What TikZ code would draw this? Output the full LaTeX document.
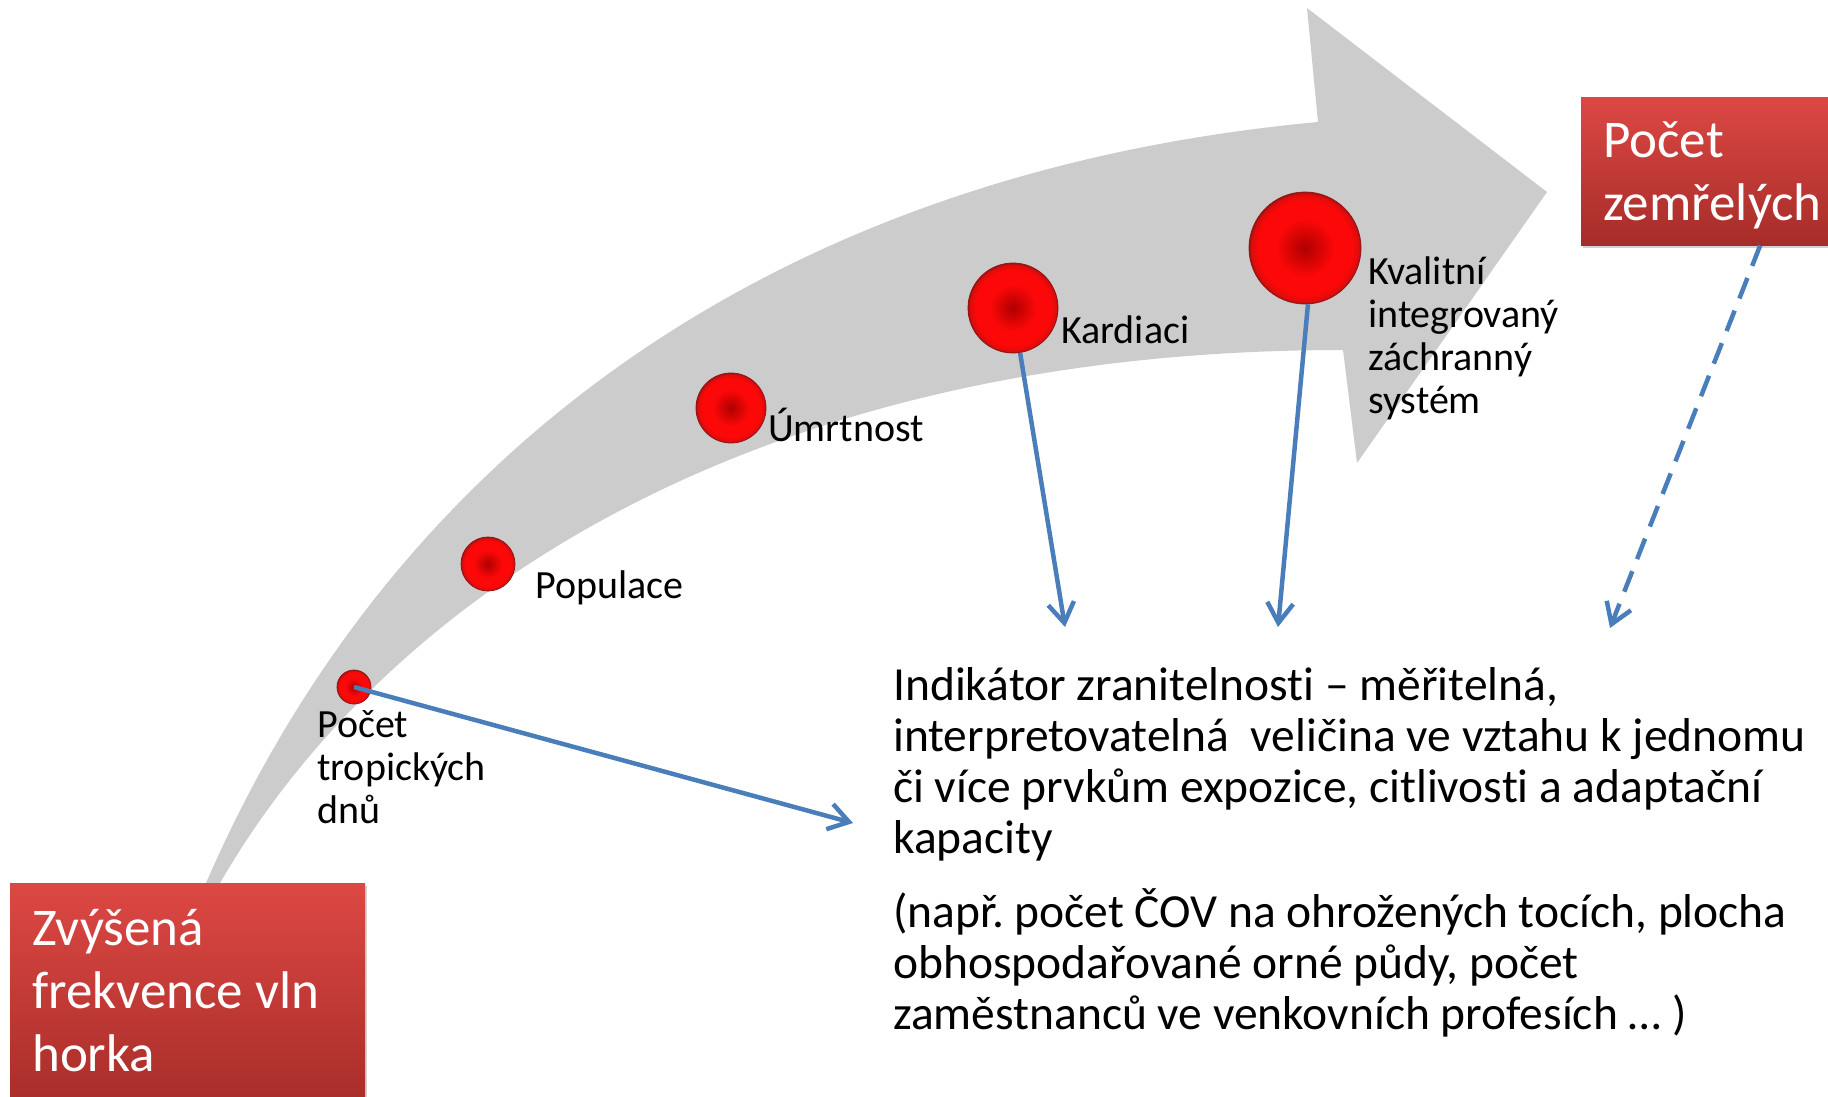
\documentclass[tikz,border=0pt]{standalone}
\usepackage{fontspec}
\setmainfont{Carlito}[Ligatures=NoCommon]
\frenchspacing
\usetikzlibrary{positioning, arrows.meta, shadows}

\definecolor{flowgray}{RGB}{204,204,204}
\definecolor{linkblue}{RGB}{74,126,187}
\definecolor{boxtop}{RGB}{221,72,68}
\definecolor{boxbottom}{RGB}{166,44,40}
\definecolor{ballcore}{RGB}{175,0,0}
\definecolor{ballred}{RGB}{252,8,8}
\definecolor{ballrim}{RGB}{150,20,20}

\pgfdeclareradialshading{redball}{\pgfpoint{0bp}{0bp}}{%
  color(0bp)=(ballcore); color(13bp)=(ballred); color(21bp)=(ballred);
  color(24bp)=(ballred!70!ballrim); color(25bp)=(ballrim); color(50bp)=(ballrim)}

\begin{document}
\begin{tikzpicture}[x=1pt, y=-1pt, font=\fontsize{40}{43}\selectfont]

    \tikzstyle{dot} = [circle, inner sep=0pt, shading=redball, draw=ballrim, line width=0.8pt]
    \tikzstyle{note} = [inner sep=0pt, align=left, anchor=base west]
    \tikzstyle{maintext} = [note, font=\fontsize{47.5}{51}\selectfont]
    \tikzstyle{redblock} = [rectangle, inner sep=0pt, anchor=north west,
        top color=boxtop, bottom color=boxbottom,
        drop shadow={opacity=0.35, shadow xshift=2pt, shadow yshift=-3pt}]
    \tikzstyle{blocktext} = [note, text=white, font=\fontsize{53}{63}\selectfont]
    \tikzstyle{link} = [draw=linkblue, line width=4.5pt,
        -{Straight Barb[length=20pt, width=26pt]}]
    \tikzstyle{dashlink} = [link, dash pattern=on 22pt off 13pt]

    \fill[white] (0,0) rectangle (1828,1096);
    \useasboundingbox (0,0) rectangle (1828,1096);

    % Gray sweeping arrow
    \fill[flowgray] (203,890) .. controls (400,430) and (800,170) .. (1318,122)
        -- (1307,8) -- (1547,192) -- (1357,463) -- (1343,350)
        .. controls (750,350) and (380,600) .. (216,890) -- cycle;

    % Red boxes (text anchored at the baseline of the last line)
    \node[redblock, minimum width=355pt, minimum height=230pt] (heat) at (10,883) {};
    \node[redblock, minimum width=262pt, minimum height=148pt] (dead) at (1581,97) {};
    \node[blocktext] (heattext) at (32,1071) {Zvýšená\\frekvence vln\\horka};
    \node[blocktext] (deadtext) at (1603,220) {Počet\\zemřelých};

    % Dots along the arrow
    \node[dot, minimum size=34pt] (tropic) at (354,687) {};
    \node[dot, minimum size=54pt] (people) at (488,564) {};
    \node[dot, minimum size=70pt] (mortality) at (731,408) {};
    \node[dot, minimum size=90pt] (cardiac) at (1013,308) {};
    \node[dot, minimum size=112pt] (rescue) at (1305,248) {};

    % Dot labels
    \node[note] (tropictext) at (317,823) {Počet\\tropických\\dnů};
    \node[note] (peopletext) at (535,598) {Populace};
    \node[note] (mortalitytext) at (768,441) {Úmrtnost};
    \node[note] (cardiactext) at (1061,343) {Kardiaci};
    \node[note] (rescuetext) at (1368,413) {Kvalitní\\integrovaný\\záchranný\\systém};

    % Indicator text
    \node[maintext] (indicator) at (893,853) {Indikátor zranitelnosti – měřitelná,\\interpretovatelná\ \ veličina ve vztahu k jednomu\\či více prvkům expozice, citlivosti a adaptační\\kapacity};
    \node[maintext] (examples) at (893,1029) {(např. počet ČOV na ohrožených tocích, plocha\\obhospodařované orné půdy, počet\\zaměstnanců ve venkovních profesích … )};

    % Arrow ends
    \coordinate (in0) at (853,823);
    \coordinate (in1) at (1065,627);
    \coordinate (in2) at (1278,627);
    \coordinate (in3) at (1610,628);

    \draw[link] (tropic.center) -- (in0);
    \draw[link] (cardiac.-81) -- (in1);
    \draw[link] (rescue.-87) -- (in2);
    \draw[dashlink] ([xshift=48pt]dead.south) -- (in3);

\end{tikzpicture}
\end{document}
